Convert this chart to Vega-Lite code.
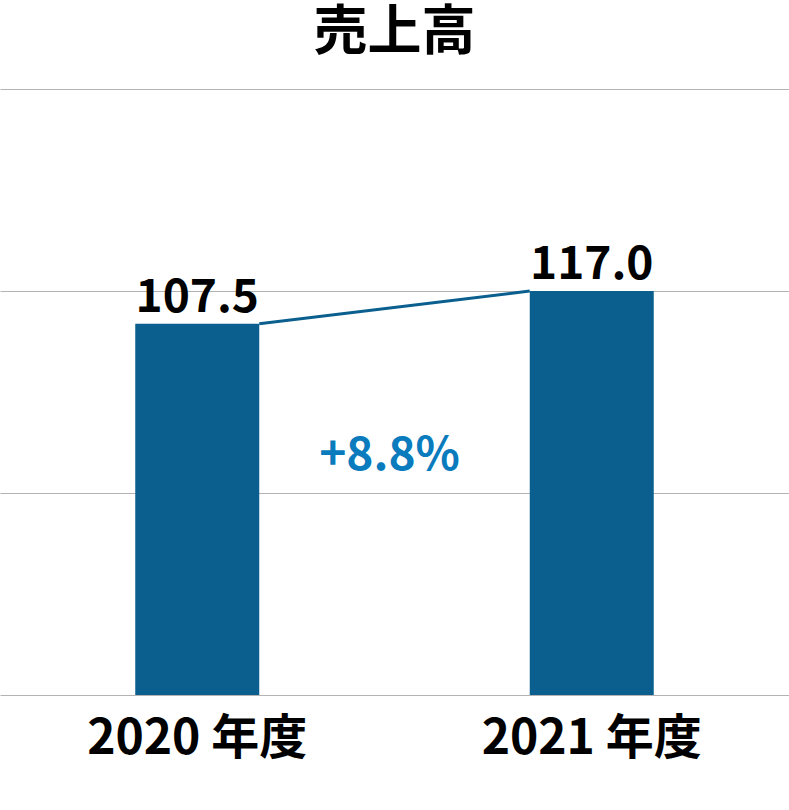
{
  "$schema": "https://vega.github.io/schema/vega-lite/v6.json",
  "width": 789,
  "height": 606,
  "autosize": {"type": "none"},
  "padding": {"top": 89, "left": 0, "right": 0, "bottom": 115},
  "background": "white",
  "title": {
    "text": "売上高",
    "font": "Noto Sans CJK JP",
    "fontSize": 54,
    "fontWeight": "bold",
    "color": "#000000",
    "anchor": "middle",
    "offset": 28
  },
  "config": {
    "view": {"stroke": null},
    "font": "Noto Sans CJK JP"
  },
  "datasets": {
    "sales": [
      {"year": "2020 年度", "sales": 107.5},
      {"year": "2021 年度", "sales": 117.0}
    ],
    "growth": [
      {"from": "2020 年度", "to": "2021 年度", "v1": 107.5, "v2": 117.0, "change": "+8.8%"}
    ]
  },
  "layer": [
    {
      "data": {"name": "sales"},
      "mark": {"type": "bar", "color": "#0a5f8e", "width": 124},
      "encoding": {
        "x": {
          "field": "year",
          "type": "nominal",
          "sort": null,
          "scale": {"paddingInner": 0, "paddingOuter": 0},
          "axis": {
            "title": null,
            "domain": false,
            "ticks": false,
            "labelAngle": 0,
            "labelLimit": 0,
            "labelFont": "Noto Sans CJK JP",
            "labelFontSize": 48,
            "labelFontWeight": "bold",
            "labelColor": "#000000",
            "labelPadding": 20
          }
        },
        "y": {
          "field": "sales",
          "type": "quantitative",
          "scale": {"domain": [0, 175.5], "nice": false, "zero": true},
          "axis": {
            "title": null,
            "labels": false,
            "ticks": false,
            "domain": false,
            "values": [0, 58.5, 117, 175.5],
            "grid": true,
            "gridColor": "#b3b3b3",
            "gridWidth": 1
          }
        }
      }
    },
    {
      "data": {"name": "sales"},
      "mark": {"type": "text", "font": "Noto Sans CJK JP", "fontSize": 46, "fontWeight": "bold", "color": "#000000", "baseline": "alphabetic", "dy": -12},
      "encoding": {
        "x": {"field": "year", "type": "nominal", "sort": null},
        "y": {"field": "sales", "type": "quantitative"},
        "text": {"field": "sales", "type": "quantitative", "format": ".1f"}
      }
    },
    {
      "data": {"name": "growth"},
      "mark": {"type": "rule", "color": "#0a5f8e", "strokeWidth": 3, "xOffset": 62, "x2Offset": -62},
      "encoding": {
        "x": {"field": "from", "type": "nominal", "sort": null},
        "x2": {"field": "to"},
        "y": {"field": "v1", "type": "quantitative"},
        "y2": {"field": "v2"}
      }
    },
    {
      "data": {"name": "growth"},
      "mark": {"type": "text", "font": "Noto Sans CJK JP", "fontSize": 46, "fontWeight": "bold", "color": "#0a7bbd", "baseline": "alphabetic", "dx": -5},
      "encoding": {
        "x": {"field": "from", "type": "nominal", "sort": null, "bandPosition": 1},
        "y": {"datum": 65.2, "type": "quantitative"},
        "text": {"field": "change", "type": "nominal"}
      }
    }
  ]
}
